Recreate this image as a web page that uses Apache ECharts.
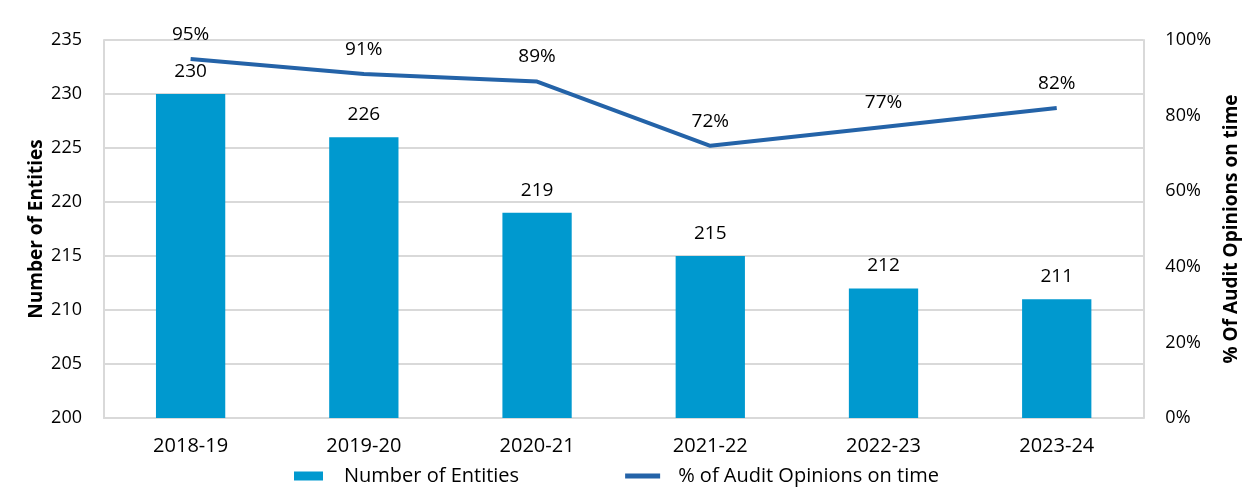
<!DOCTYPE html>
<html>
<head>
<meta charset="utf-8">
<script src="https://cdn.jsdelivr.net/npm/echarts@6/dist/echarts.min.js"></script>
<style>
  html, body { margin: 0; padding: 0; background: #fff; }
  #chart { width: 1249px; height: 500px; }
</style>
</head>
<body>
<div id="chart"></div>
<script>
// данные графика
const years = ['2018-19', '2019-20', '2020-21', '2021-22', '2022-23', '2023-24'];
const entities = [230, 226, 219, 215, 212, 211];
const onTime = [95, 91, 89, 72, 77, 82];
const leftTicks = { min: 200, max: 235, step: 5 };
const rightTicks = { min: 0, max: 100, step: 20 };

const font = '"Segoe UI", "Open Sans", "Noto Sans", sans-serif';
const chart = echarts.init(document.getElementById('chart'));

const option = {
  animation: false,
  textStyle: { fontFamily: font },
  grid: { left: 104, right: 104, top: 40, bottom: 82, containLabel: false },
  legend: {
    bottom: 9,
    left: 289,
    itemGap: 106,
    itemWidth: 35,
    itemHeight: 9,
    textStyle: { fontSize: 20, color: '#000', fontFamily: font, padding: [0, 0, 0, 13] },
    data: [
      { name: 'Number of Entities', icon: 'path://M0 0H29V9H0Z' },
      { name: '% of Audit Opinions on time', icon: 'path://M0 0H35V5H0Z' }
    ]
  },
  xAxis: {
    type: 'category',
    data: years,
    axisLine: { lineStyle: { color: '#d9d9d9', width: 2 } },
    axisTick: { show: false },
    axisLabel: { color: '#000', fontSize: 20, margin: 18, fontFamily: font }
  },
  yAxis: [
    {
      type: 'value',
      min: leftTicks.min,
      max: leftTicks.max,
      interval: leftTicks.step,
      name: 'Number of Entities',
      nameLocation: 'middle',
      nameGap: 58,
      nameMoveOverlap: false,
      nameTextStyle: { fontSize: 19, fontWeight: 'bold', color: '#000', fontFamily: font },
      axisLine: { show: true, lineStyle: { color: '#d9d9d9', width: 2 } },
      axisTick: { show: false },
      axisLabel: { color: '#000', fontSize: 18, margin: 22, fontFamily: font },
      splitLine: { lineStyle: { color: '#d9d9d9', width: 2 } }
    },
    {
      type: 'value',
      min: rightTicks.min,
      max: rightTicks.max,
      interval: rightTicks.step,
      name: '% Of Audit Opinions on time',
      nameLocation: 'middle',
      nameGap: 76,
      nameRotate: 90,
      nameTextStyle: { fontSize: 19, fontWeight: 'bold', color: '#000', fontFamily: font },
      position: 'right',
      axisLine: { show: true, lineStyle: { color: '#d9d9d9', width: 2 } },
      axisTick: { show: false },
      axisLabel: { color: '#000', fontSize: 18, margin: 22, formatter: '{value}%', fontFamily: font },
      splitLine: { show: false }
    }
  ],
  series: [
    {
      name: 'Number of Entities',
      type: 'bar',
      data: entities,
      barWidth: '40%',
      itemStyle: { color: '#0099cf' },
      label: { show: true, position: 'top', distance: 13, color: '#000', fontSize: 19, fontFamily: font }
    },
    {
      name: '% of Audit Opinions on time',
      type: 'line',
      yAxisIndex: 1,
      data: onTime,
      symbol: 'circle',
      symbolSize: 0.1,
      showSymbol: true,
      lineStyle: { color: '#2463a8', width: 4 },
      itemStyle: { color: '#2463a8' },
      label: { show: true, position: 'top', distance: 15, color: '#000', fontSize: 19, formatter: '{c}%', fontFamily: font }
    }
  ]
};

chart.setOption(option);
</script>
</body>
</html>
